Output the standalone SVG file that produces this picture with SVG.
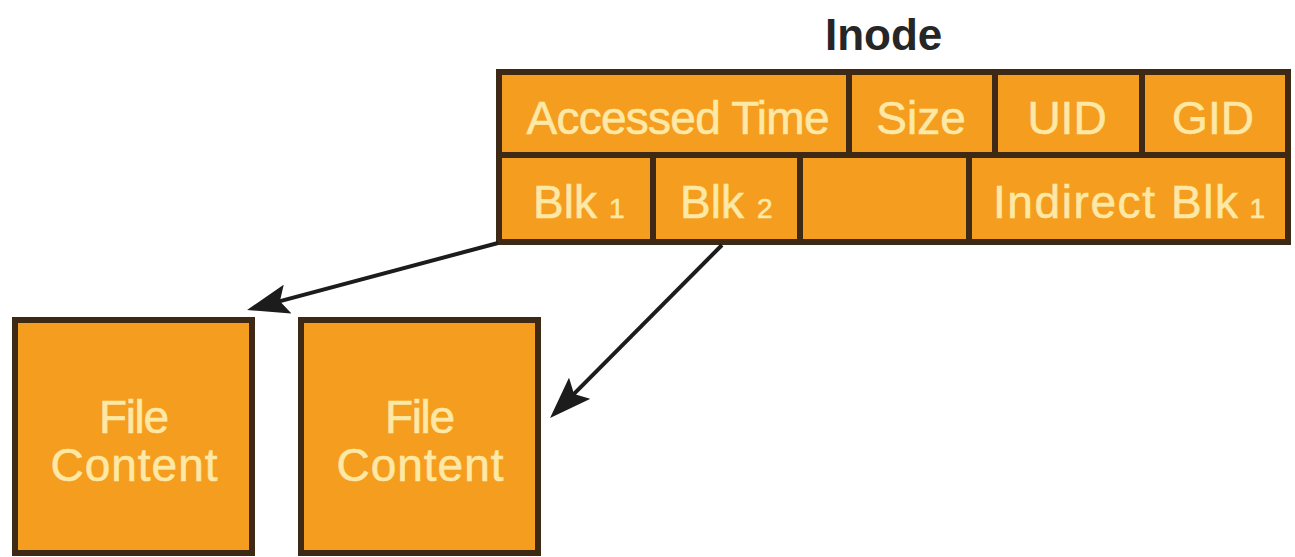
<svg xmlns="http://www.w3.org/2000/svg" width="1295" height="557" viewBox="0 0 1295 557">
<defs>
<style>
.cell{fill:#F59D1F;stroke:#3D2914;stroke-width:6}
.lbl{font-family:"Liberation Sans",Arial,sans-serif;font-size:46px;fill:#FDE8A6;stroke:#FDE8A6;stroke-width:0.6}
.c{text-anchor:middle}
.sub{font-size:28px}
.title{font-family:"Liberation Sans",Arial,sans-serif;font-size:44px;font-weight:bold;fill:#262626}
.conn{fill:none;stroke:#1C1C1C;stroke-width:4;marker-end:url(#ah)}
</style>
<marker id="ah" markerUnits="userSpaceOnUse" viewBox="0 0 42 30" refX="32" refY="15" markerWidth="42" markerHeight="30" orient="auto">
<path d="M0,0 L42,15 L0,30 L8,15 Z" fill="#1C1C1C"/>
</marker>
</defs>
<rect width="1295" height="557" fill="#FFFFFF"/>
<g id="inode-title"><text class="title" x="825" y="50">Inode</text></g>
<g id="inode">
<g id="cell-accessed"><rect class="cell" x="499" y="72" width="350" height="83"/><text class="lbl c" x="678" y="134" textLength="303">Accessed Time</text></g>
<g id="cell-size"><rect class="cell" x="849" y="72" width="146" height="83"/><text class="lbl c" x="921" y="134">Size</text></g>
<g id="cell-uid"><rect class="cell" x="995" y="72" width="147" height="83"/><text class="lbl c" x="1067" y="134">UID</text></g>
<g id="cell-gid"><rect class="cell" x="1142" y="72" width="146" height="83"/><text class="lbl c" x="1213" y="134">GID</text></g>
<g id="cell-blk1"><rect class="cell" x="499" y="155" width="154" height="87"/><text class="lbl" x="533" y="218">Blk<tspan class="sub" dx="12">1</tspan></text></g>
<g id="cell-blk2"><rect class="cell" x="653" y="155" width="147" height="87"/><text class="lbl" x="680" y="218">Blk<tspan class="sub" dx="13">2</tspan></text></g>
<g id="cell-empty"><rect class="cell" x="800" y="155" width="169" height="87"/></g>
<g id="cell-indirect"><rect class="cell" x="969" y="155" width="319" height="87"/><text class="lbl" x="993" y="218"><tspan textLength="245">Indirect Blk</tspan><tspan class="sub" dx="10">1</tspan></text></g>
</g>
<g id="file-content-1"><rect class="cell" x="15" y="320" width="237" height="233"/><text class="lbl c" x="134" y="433" textLength="70">File</text><text class="lbl c" x="134" y="481" textLength="167">Content</text></g>
<g id="file-content-2"><rect class="cell" x="301" y="320" width="237" height="233"/><text class="lbl c" x="420" y="433" textLength="70">File</text><text class="lbl c" x="420" y="481" textLength="167">Content</text></g>
<g id="connectors">
<path class="conn" d="M498,243 L256.7,307.4"/>
<path class="conn" d="M722,245 L557.1,410.9"/>
</g>
</svg>
